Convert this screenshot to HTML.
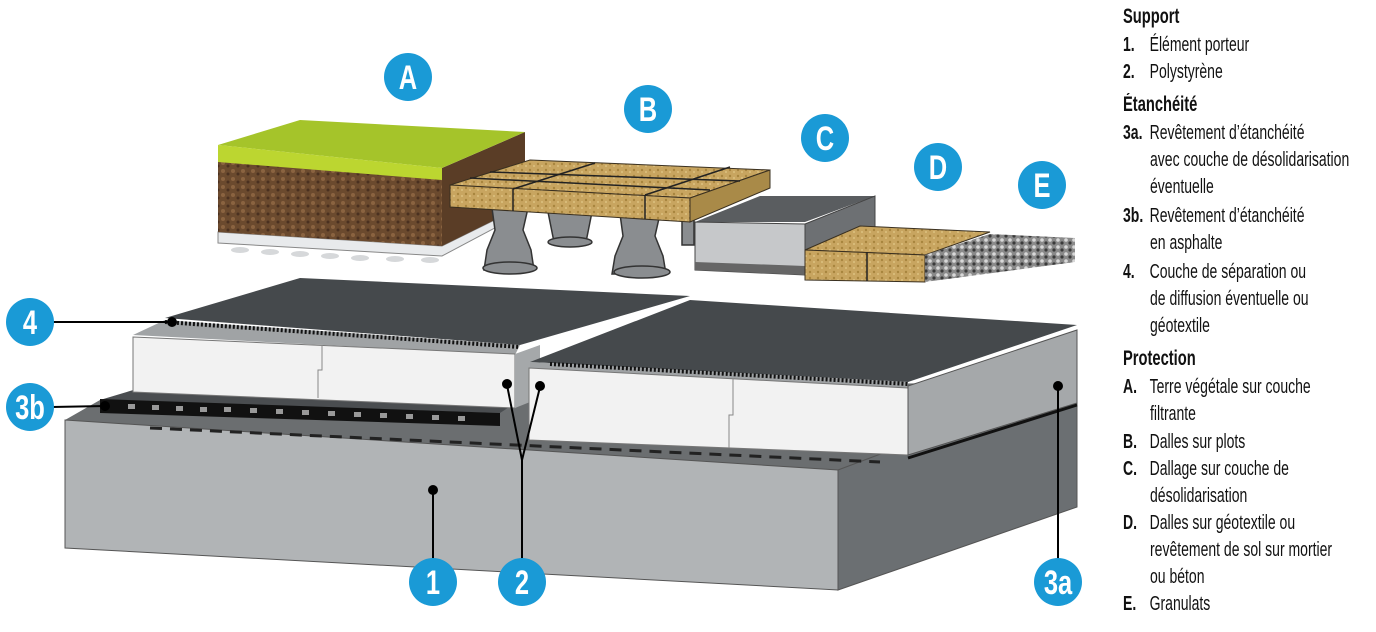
<!DOCTYPE html>
<html><head><meta charset="utf-8"><style>
html,body{margin:0;padding:0;background:#fff;}
body{width:1376px;height:632px;position:relative;overflow:hidden;font-family:"Liberation Sans",sans-serif;}
svg{position:absolute;left:0;top:0;}
.l{position:absolute;font-size:20px;color:#111;transform:scaleX(0.7);transform-origin:left top;white-space:nowrap;line-height:22px;}
.h{font-weight:bold;font-size:21px;}
.n{display:inline-block;width:38px;font-weight:bold;}
</style></head><body>
<svg width="1376" height="632" viewBox="0 0 1376 632">
<defs>
<pattern id="soil" width="10" height="8" patternUnits="userSpaceOnUse"><rect width="10" height="8" fill="#6b4a2e"/><circle cx="3" cy="3" r="2" fill="#8a6340"/><circle cx="8" cy="6" r="1.5" fill="#4a3020"/></pattern>
<pattern id="wood" width="8" height="6" patternUnits="userSpaceOnUse"><rect width="8" height="6" fill="#c8a560"/><circle cx="2" cy="2" r="1.2" fill="#a8853e"/><circle cx="6" cy="4" r="1" fill="#dcc080"/></pattern>
<pattern id="grav" width="8" height="7" patternUnits="userSpaceOnUse"><rect width="8" height="7" fill="#8a8a8a"/><circle cx="2" cy="2" r="1.8" fill="#d8d8d8"/><circle cx="6" cy="5" r="1.6" fill="#3a3a3a"/></pattern>
</defs>
<!-- base slab -->
<polygon points="65,420 100,400 1077,380 838,470" fill="#6b6e70"/>
<polygon points="65,420 838,470 838,590 65,548" fill="#b1b4b6" stroke="#555" stroke-width="1"/>
<polygon points="838,470 1077,380 1077,507 838,590" fill="#6b6f72" stroke="#555" stroke-width="1"/>
<line x1="150" y1="428" x2="880" y2="462" stroke="#222" stroke-width="3" stroke-dasharray="12,8"/>
<!-- 3b asphalt -->
<polygon points="100,400 140,388 520,400 500,413" fill="#4a4d50"/>
<polygon points="100,399 500,413 500,426 100,413" fill="#111"/>
<g fill="#999">
<rect x="128" y="404" width="7" height="5"/><rect x="152" y="405" width="7" height="5"/><rect x="176" y="406" width="7" height="5"/><rect x="200" y="407" width="7" height="5"/><rect x="224" y="407" width="7" height="5"/><rect x="250" y="408" width="7" height="5"/><rect x="276" y="409" width="7" height="5"/><rect x="302" y="410" width="7" height="5"/><rect x="328" y="411" width="7" height="5"/><rect x="354" y="412" width="7" height="5"/><rect x="380" y="413" width="7" height="5"/><rect x="406" y="414" width="7" height="5"/><rect x="432" y="415" width="7" height="5"/><rect x="458" y="416" width="7" height="5"/></g>
<!-- left insulation -->
<polygon points="133,335 165,320 520,345 515,355" fill="#a0a3a5"/>
<polygon points="133,337 515,354 515,408 133,392" fill="#f2f2f2" stroke="#777" stroke-width="1"/>
<polyline points="322,345 322,370 318,370 318,398" fill="none" stroke="#888"/>
<polygon points="515,354 540,345 540,398 515,408" fill="#a5a8aa"/>
<polygon points="165,318 300,278 690,296 520,345" fill="#45494c"/>
<line x1="165" y1="322" x2="520" y2="347" stroke="#111" stroke-width="4" stroke-dasharray="2,2"/>
<!-- right insulation -->
<polygon points="530,362 690,300 1077,325 908,382" fill="#45494c"/>
<polygon points="530,362 908,382 908,388 530,368" fill="#9fa2a4"/>
<line x1="550" y1="364" x2="908" y2="384" stroke="#111" stroke-width="4" stroke-dasharray="2,2"/>
<polygon points="529,368 908,388 908,455 529,440" fill="#f2f2f2" stroke="#777" stroke-width="1"/>
<polyline points="733,378 733,415 729,415 729,448" fill="none" stroke="#888"/>
<polygon points="908,386 1077,330 1077,403 908,455" fill="#a5a8aa" stroke="#555" stroke-width="1"/>
<line x1="908" y1="458" x2="1077" y2="405" stroke="#111" stroke-width="3"/>
<!-- A soil -->
<polygon points="218,232 442,246 525,205 525,212 442,256 218,243" fill="#e8eaec" stroke="#888"/>
<g fill="#d6d8da"><ellipse cx="240" cy="250" rx="9" ry="3"/><ellipse cx="270" cy="252" rx="9" ry="3"/><ellipse cx="300" cy="254" rx="9" ry="3"/><ellipse cx="330" cy="256" rx="9" ry="3"/><ellipse cx="360" cy="258" rx="9" ry="3"/><ellipse cx="395" cy="259" rx="9" ry="3"/><ellipse cx="430" cy="260" rx="9" ry="3"/></g>
<polygon points="442,168 525,132 525,205 442,246" fill="#5a3d26"/>
<polygon points="218,160 442,178 442,246 218,232" fill="url(#soil)"/>
<polygon points="218,145 300,120 525,132 442,168" fill="#a5c42a"/>
<polygon points="218,145 442,168 442,180 218,162" fill="#bcd630"/>
<!-- pedestals -->
<g fill="#8a8d90" stroke="#333" stroke-width="1.5">
<path d="M548,212 h44 l-6,30 h-32z"/><ellipse cx="570" cy="242" rx="22" ry="5"/>
<path d="M682,215 h12 v30 h-12z"/>
<path d="M492,208 h36 l-5,22 l8,20 l3,20 h-50 l3,-20 l8,-20z"/><ellipse cx="510" cy="268" rx="27" ry="6"/>
<path d="M620,214 h40 l-5,22 l8,20 l3,18 h-54 l3,-18 l8,-20z"/><ellipse cx="642" cy="272" rx="28" ry="6"/>
</g>
<!-- B tiles -->
<polygon points="450,185 530,160 770,170 690,198" fill="url(#wood)" stroke="#3a3020"/>
<polygon points="450,185 690,198 690,222 450,207" fill="url(#wood)" stroke="#3a3020"/>
<polygon points="690,198 770,170 770,188 690,222" fill="#a98a48" stroke="#3a3020"/>
<g stroke="#222" stroke-width="1.5"><line x1="513" y1="189" x2="513" y2="211"/><line x1="513" y1="189" x2="595" y2="163"/><line x1="645" y1="195" x2="645" y2="219"/><line x1="645" y1="195" x2="730" y2="167"/><line x1="470" y1="178" x2="710" y2="190"/><line x1="490" y1="172" x2="740" y2="181"/></g>
<!-- C box -->
<polygon points="695,222 760,196 875,196 805,222" fill="#5a5d60"/>
<polygon points="695,222 805,224 805,275 695,270" fill="#c6c8ca" stroke="#444"/>
<polygon points="695,262 805,266 805,275 695,270" fill="#666"/>
<polygon points="805,224 875,196 875,250 805,275" fill="#6d7073" stroke="#444"/>
<!-- D tiles -->
<polygon points="805,250 860,226 990,232 925,255" fill="url(#wood)" stroke="#3a3020"/>
<polygon points="805,250 925,255 925,282 805,280" fill="url(#wood)" stroke="#3a3020"/>
<line x1="867" y1="252" x2="867" y2="281" stroke="#222" stroke-width="1.5"/>
<!-- E gravel -->
<polygon points="925,255 990,234 1075,238 1075,262 925,282" fill="url(#grav)"/>
<!-- leaders -->
<g stroke="#000" stroke-width="2" fill="none">
<line x1="52" y1="322" x2="172" y2="322"/>
<line x1="52" y1="407" x2="105" y2="406"/>
<line x1="433" y1="560" x2="433" y2="490"/>
<polyline points="522,560 522,460 507,385"/><line x1="522" y1="460" x2="540" y2="387"/>
<line x1="1058" y1="560" x2="1058" y2="387"/>
</g>
<g fill="#000"><circle cx="172" cy="322" r="5"/><circle cx="105" cy="406" r="5"/><circle cx="433" cy="490" r="5"/><circle cx="507" cy="384" r="5"/><circle cx="540" cy="386" r="5"/><circle cx="1058" cy="386" r="5"/></g>
<!-- circles -->
<g fill="#1a9ad6">
<circle cx="408" cy="77" r="24"/><circle cx="648" cy="109" r="24"/><circle cx="825" cy="138" r="24"/><circle cx="938" cy="167" r="24"/><circle cx="1042" cy="185" r="24"/>
<circle cx="30" cy="322" r="24"/><circle cx="30" cy="407" r="24"/><circle cx="433" cy="582" r="24"/><circle cx="522" cy="582" r="24"/><circle cx="1058" cy="582" r="24"/>
</g>
<g fill="#fff" font-family="Liberation Sans, sans-serif" font-weight="bold" font-size="34" text-anchor="middle">
<text x="408" y="89" transform="translate(408 0) scale(0.75 1) translate(-408 0)">A</text>
<text x="648" y="121" transform="translate(648 0) scale(0.75 1) translate(-648 0)">B</text>
<text x="825" y="150" transform="translate(825 0) scale(0.75 1) translate(-825 0)">C</text>
<text x="938" y="179" transform="translate(938 0) scale(0.75 1) translate(-938 0)">D</text>
<text x="1042" y="197" transform="translate(1042 0) scale(0.75 1) translate(-1042 0)">E</text>
<text x="30" y="334" transform="translate(30 0) scale(0.75 1) translate(-30 0)">4</text>
<text x="30" y="419" transform="translate(30 0) scale(0.75 1) translate(-30 0)">3b</text>
<text x="433" y="594" transform="translate(433 0) scale(0.75 1) translate(-433 0)">1</text>
<text x="522" y="594" transform="translate(522 0) scale(0.75 1) translate(-522 0)">2</text>
<text x="1058" y="594" transform="translate(1058 0) scale(0.75 1) translate(-1058 0)">3a</text>
</g>
</svg>
<div class="l h" style="left:1123px;top:6px">Support</div>
<div class="l" style="left:1123px;top:34px"><span class="n">1.</span>Élément porteur</div>
<div class="l" style="left:1123px;top:61px"><span class="n">2.</span>Polystyrène</div>
<div class="l h" style="left:1123px;top:94px">Étanchéité</div>
<div class="l" style="left:1123px;top:122px"><span class="n">3a.</span>Revêtement d’étanchéité</div>
<div class="l" style="left:1150px;top:149px">avec couche de désolidarisation</div>
<div class="l" style="left:1150px;top:176px">éventuelle</div>
<div class="l" style="left:1123px;top:205px"><span class="n">3b.</span>Revêtement d’étanchéité</div>
<div class="l" style="left:1150px;top:232px">en asphalte</div>
<div class="l" style="left:1123px;top:261px"><span class="n">4.</span>Couche de séparation ou</div>
<div class="l" style="left:1150px;top:288px">de diffusion éventuelle ou</div>
<div class="l" style="left:1150px;top:315px">géotextile</div>
<div class="l h" style="left:1123px;top:348px">Protection</div>
<div class="l" style="left:1123px;top:376px"><span class="n">A.</span>Terre végétale sur couche</div>
<div class="l" style="left:1150px;top:403px">filtrante</div>
<div class="l" style="left:1123px;top:431px"><span class="n">B.</span>Dalles sur plots</div>
<div class="l" style="left:1123px;top:458px"><span class="n">C.</span>Dallage sur couche de</div>
<div class="l" style="left:1150px;top:485px">désolidarisation</div>
<div class="l" style="left:1123px;top:512px"><span class="n">D.</span>Dalles sur géotextile ou</div>
<div class="l" style="left:1150px;top:539px">revêtement de sol sur mortier</div>
<div class="l" style="left:1150px;top:566px">ou béton</div>
<div class="l" style="left:1123px;top:593px"><span class="n">E.</span>Granulats</div>
</body></html>
